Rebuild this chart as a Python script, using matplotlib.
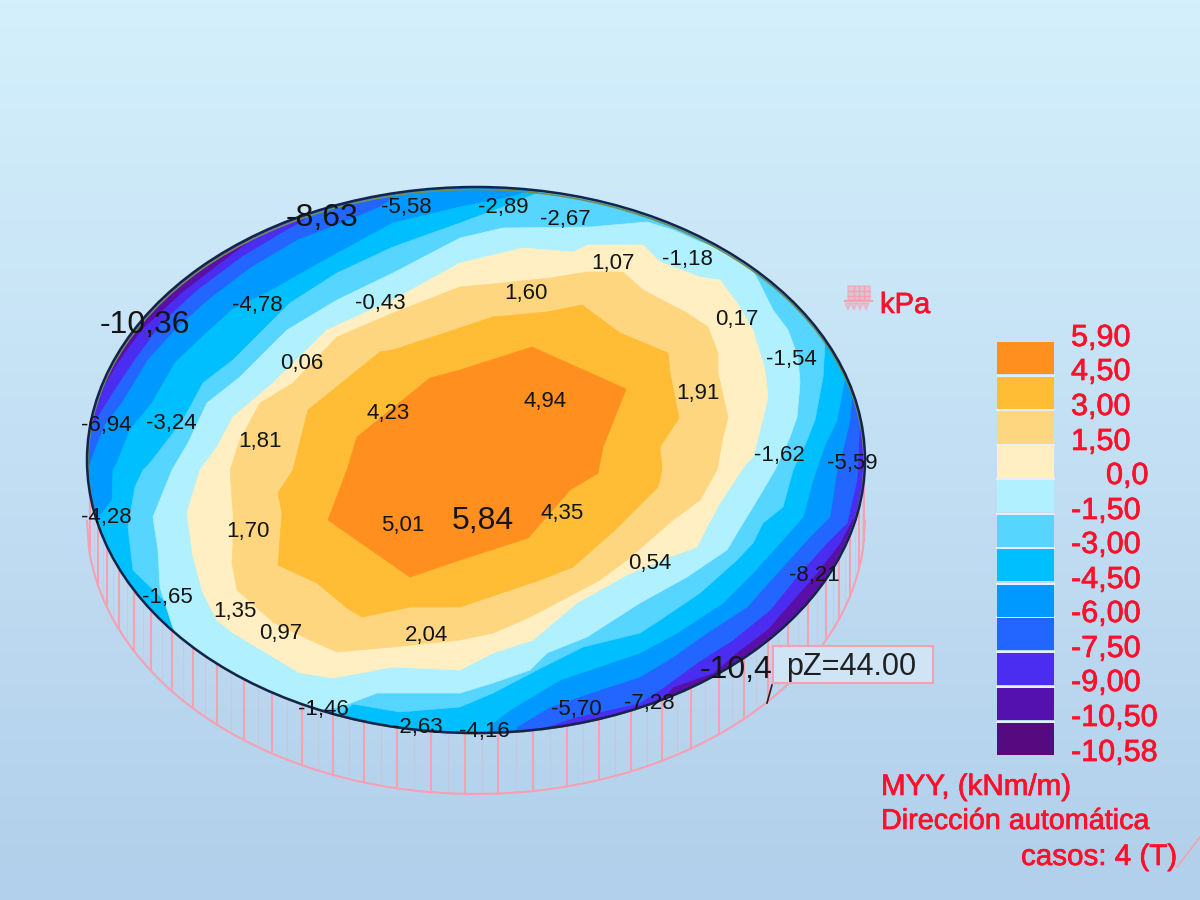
import numpy as np
import matplotlib
matplotlib.use("Agg")
import matplotlib.pyplot as plt
import matplotlib.patheffects as pe
from matplotlib.colors import LinearSegmentedColormap
from matplotlib.patches import Ellipse, Polygon, Rectangle

plt.rcParams['font.family'] = ['Liberation Sans', 'DejaVu Sans']

# Contornos de cada banda (x, y en pixeles)
band_violet = [(85,420),(95,403),(118,363),(142,330),(182,293),(225,260),(252,240),(258,222),(480,170),(875,400),(880,500),(852,520),(840,543),(817,573),(787,607),(767,630),(740,650),(713,673),(673,687),(660,703),(650,720),(480,745),(90,560)]
band_blue = [(85,440),(98,417),(115,390),(135,360),(162,323),(198,290),(242,257),(282,233),(305,220),(310,200),(600,170),(870,400),(860,420),(858,460),(857,480),(847,523),(827,543),(800,573),(770,610),(733,640),(697,663),(660,690),(640,703),(600,712),(577,717),(537,730),(530,745),(100,560)]
band_azure = [(85,478),(95,450),(105,425),(122,403),(148,360),(178,327),(212,297),(252,267),(298,240),(337,225),(380,207),(393,198),(400,185),(560,175),(860,385),(852,395),(850,420),(843,450),(837,470),(830,517),(810,537),(780,570),(747,607),(707,633),(673,657),(640,677),(600,690),(550,707),(517,727),(510,745),(100,560)]
band_sky = [(90,540),(97,520),(112,500),(113,470),(117,463),(130,430),(152,403),(175,363),(202,337),(232,310),(272,290),(325,260),(393,223),(460,207),(510,197),(553,185),(700,200),(850,340),(850,365),(845,377),(837,420),(825,445),(813,480),(803,517),(780,543),(753,573),(723,603),(677,633),(640,653),(560,680),(510,710),(493,723),(480,745),(340,735),(130,620)]
band_light = [(128,527),(135,487),(143,470),(150,463),(183,420),(203,383),(233,360),(290,303),(337,273),(393,247),(460,223),(503,207),(545,190),(600,180),(700,215),(735,240),(770,262),(815,305),(835,335),(825,343),(823,377),(815,420),(805,445),(793,470),(783,507),(763,523),(753,543),(737,560),(700,593),(660,620),(640,633),(583,647),(543,667),(493,693),(460,707),(400,712),(353,704),(330,722),(180,660),(190,643),(177,613),(133,570)]
band_cyan = [(172,470),(188,443),(207,403),(240,377),(287,330),(337,300),(393,273),(460,238),(503,228),(590,227),(647,222),(673,230),(700,242),(727,250),(745,258),(758,280),(773,310),(788,330),(798,357),(800,383),(797,417),(790,437),(775,470),(753,507),(737,533),(727,550),(687,577),(640,603),(587,637),(547,653),(530,670),(493,683),(460,693),(377,693),(340,707),(300,712),(247,690),(185,655),(172,625),(160,587),(158,550),(153,517)]
band_cream = [(460,263),(523,248),(573,252),(588,245),(643,245),(660,262),(700,277),(720,280),(737,303),(753,330),(765,370),(768,397),(760,430),(753,457),(745,465),(720,503),(707,527),(697,547),(667,558),(627,575),(577,603),(533,640),(493,653),(460,670),(393,667),(333,678),(300,673),(273,657),(233,633),(217,620),(203,593),(193,557),(187,513),(200,470),(217,447),(233,417),(273,383),(327,330),(393,300)]
band_pale = [(460,287),(503,283),(550,278),(587,272),(623,272),(643,290),(687,313),(708,327),(718,353),(718,373),(728,417),(723,437),(717,470),(700,500),(673,520),(627,560),(600,580),(530,617),(493,633),(460,640),(393,647),(337,652),(310,640),(273,622),(237,590),(232,563),(233,543),(233,513),(230,470),(240,440),(260,403),(293,383),(337,337),(393,313)]
band_gold = [(460,328),(493,317),(547,312),(582,305),(620,333),(668,353),(670,373),(679,418),(660,447),(662,470),(658,487),(615,530),(573,567),(540,580),(460,607),(410,607),(362,617),(347,608),(317,583),(278,565),(282,513),(278,493),(293,470),(308,410),(380,352),(393,350)]
band_orange = [(460,370),(532,347),(626,389),(603,447),(598,473),(570,490),(528,538),(460,560),(410,577),(328,520),(347,470),(357,437),(430,378)]

# Etiquetas del disco
small_labels = ['-5,58','-2,89','-2,67','1,07','-1,18','-4,78','-0,43','1,60','0,17','0,06','-1,54','4,23','4,94','1,91','-6,94','-3,24','1,81','-1,62','-5,59','-4,28','1,70','5,01','4,35','0,54','-8,21','-1,65','1,35','0,97','2,04','-1,46','-2,63','-4,16','-5,70','-7,28']
small_x = [406,503,565,613,687,257,380,526,737,302,791,388,545,698,106,171,260,779,852,106,248,403,562,650,814,167,235,281,427,323,417,484,576,649]
small_y = [205,206,217,262,258,304,302,292,317,362,357,412,400,391,423,422,439,454,462,515,530,523,511,562,573,595,609,631,633,707,725,729,708,701]
big_labels = ['-8,63','-10,36','5,84','-10,4']
big_x = [322,145,483,736]
big_y = [215,322,518,667]

# Leyenda
legend_colors = ['#FF9020','#FFBC34','#FFD680','#FFEFC2','#B0F0FF','#55D5FF','#00BFFF','#0099FF','#2266FF','#4A2DF0','#5511B0','#560A80']
legend_tops = [342,377,411,446,480,515,549,585,618,653,688,723]
legend_labels = ['5,90','4,50','3,00','1,50','0,0','-1,50','-3,00','-4,50','-6,00','-7,50','-9,00','-10,50','-10,58']
legend_label_y = [335,369,404,439,473,508,542,577,611,646,680,715,750]

# Lineas del cilindro de carga
rib_x = [90,98,107,119,134,151,172,193,217,244,272,302,333,364,397,431,465,498,533,567,599,631,662,691,719,744,768,788,808,826,839,850,859,864]

cx, cy, rx, ry = 476, 460, 389, 273
rib_depth = 61
pink = '#F6A0B2'
red = '#FF0F2A'
bold_red = [pe.withStroke(linewidth=0.5, foreground=red)]


def edge_y(x):
    return cy + ry * np.sqrt(np.clip(1 - ((np.asarray(x, dtype=float) - cx) / rx) ** 2, 0, 1))


fig = plt.figure(figsize=(12, 9), dpi=100)
ax = fig.add_axes([0, 0, 1, 1])
ax.set_xlim(0, 1200)
ax.set_ylim(900, 0)
ax.axis('off')

# Fondo degradado
bg = LinearSegmentedColormap.from_list('bg', ['#D4F0FC', '#B2CFEB'])
ax.imshow(np.linspace(0, 1, 256).reshape(-1, 1), cmap=bg, extent=[0, 1200, 900, 0], aspect='auto', zorder=0)

# Cilindro rosa
ribs = np.array(rib_x, dtype=float)
for x in ribs:
    ax.plot([x, x], [edge_y(x), edge_y(x) + rib_depth], color=pink, lw=1.5, zorder=1)
for x in (ribs[:-1] + ribs[1:]) / 2:
    ax.plot([x, x], [edge_y(x), edge_y(x) + rib_depth], color=pink, lw=0.8, alpha=0.25, zorder=1)
xs = np.linspace(cx - rx, cx + rx, 400)
ax.plot(xs, edge_y(xs) + rib_depth, color=pink, lw=1.5, zorder=1)

# Disco con las bandas recortadas
disc = Ellipse((cx, cy), 2 * rx, 2 * ry, facecolor='#5A10A8', edgecolor='none', zorder=2)
ax.add_patch(disc)
bands = [(band_violet, legend_colors[9]), (band_blue, legend_colors[8]),
         (band_azure, legend_colors[7]), (band_sky, legend_colors[6]), (band_light, legend_colors[5]),
         (band_cyan, legend_colors[4]), (band_cream, legend_colors[3]), (band_pale, legend_colors[2]),
         (band_gold, legend_colors[1]), (band_orange, legend_colors[0])]
for pts, col in bands:
    p = Polygon(pts, closed=True, facecolor=col, edgecolor=col, lw=0.5, zorder=3)
    ax.add_patch(p)
    p.set_clip_path(disc)

ax.add_patch(Ellipse((cx, cy + 1.5), 2 * rx - 2, 2 * ry - 2, fill=False, edgecolor='#6F8F5A', lw=1.2, zorder=4))
ax.add_patch(Ellipse((cx, cy), 2 * rx, 2 * ry, fill=False, edgecolor='#14244E', lw=1.8, zorder=5))

for t, x, y in zip(small_labels, small_x, small_y):
    ax.text(x, y + 2, t, fontsize=16, color='#141414', ha='center', va='center', zorder=6)
for t, x, y in zip(big_labels, big_x, big_y):
    ax.text(x, y + 3, t, fontsize=23, color='#141414', ha='center', va='center', zorder=6)

# Cuadro pZ
ax.add_patch(Rectangle((773, 646), 160, 37, facecolor='#CFE5F6', edgecolor=pink, lw=1.5, zorder=7))
ax.text(851, 667, 'pZ=44.00', fontsize=22, color='#202020', ha='center', va='center', zorder=8)
ax.plot([772, 767], [685, 703], color='#202020', lw=1.2, zorder=8)

# Icono y unidad
ax.text(880, 305, 'kPa', fontsize=21, color=red, ha='left', va='center', zorder=6, path_effects=bold_red)
ax.add_patch(Rectangle((848, 286), 22, 14, facecolor=pink, alpha=0.5, edgecolor=pink, lw=1.2, zorder=6))
for y in [291, 296]:
    ax.plot([848, 870], [y, y], color=pink, lw=1, zorder=6)
for x in [854, 859, 864]:
    ax.plot([x, x], [286, 300], color=pink, lw=1, zorder=6)
for x in [848, 854, 860, 866]:
    ax.fill([x - 3, x + 3, x], [303, 303, 310], facecolor=pink, alpha=0.5, edgecolor=pink, lw=1, zorder=6)
ax.plot([845, 872], [301, 301], color=pink, lw=1.5, zorder=6)

# Leyenda
for top, col in zip(legend_tops, legend_colors):
    ax.add_patch(Rectangle((997, top), 57, 32, facecolor=col, edgecolor='none', zorder=6))
for top in legend_tops[1:]:
    ax.plot([997, 1054], [top - 1, top - 1], color='#E8EEF8', lw=1.5, zorder=5)
for t, y in zip(legend_labels, legend_label_y):
    x = 1106 if t == '0,0' else 1071
    ax.text(x, y + 3, t, fontsize=22, color=red, ha='left', va='center', zorder=6, path_effects=bold_red)

ax.text(881, 787, 'MYY, (kNm/m)', fontsize=21.3, color=red, ha='left', va='center', zorder=6, path_effects=bold_red)
ax.text(881, 821, 'Dirección automática', fontsize=20.7, color=red, ha='left', va='center', zorder=6, path_effects=bold_red)
ax.text(1021, 857, 'casos: 4 (T)', fontsize=21.3, color=red, ha='left', va='center', zorder=6, path_effects=bold_red)
ax.plot([1177, 1200], [867, 837], color=pink, lw=1.2, zorder=6)

fig.savefig('out.png', dpi=100)
